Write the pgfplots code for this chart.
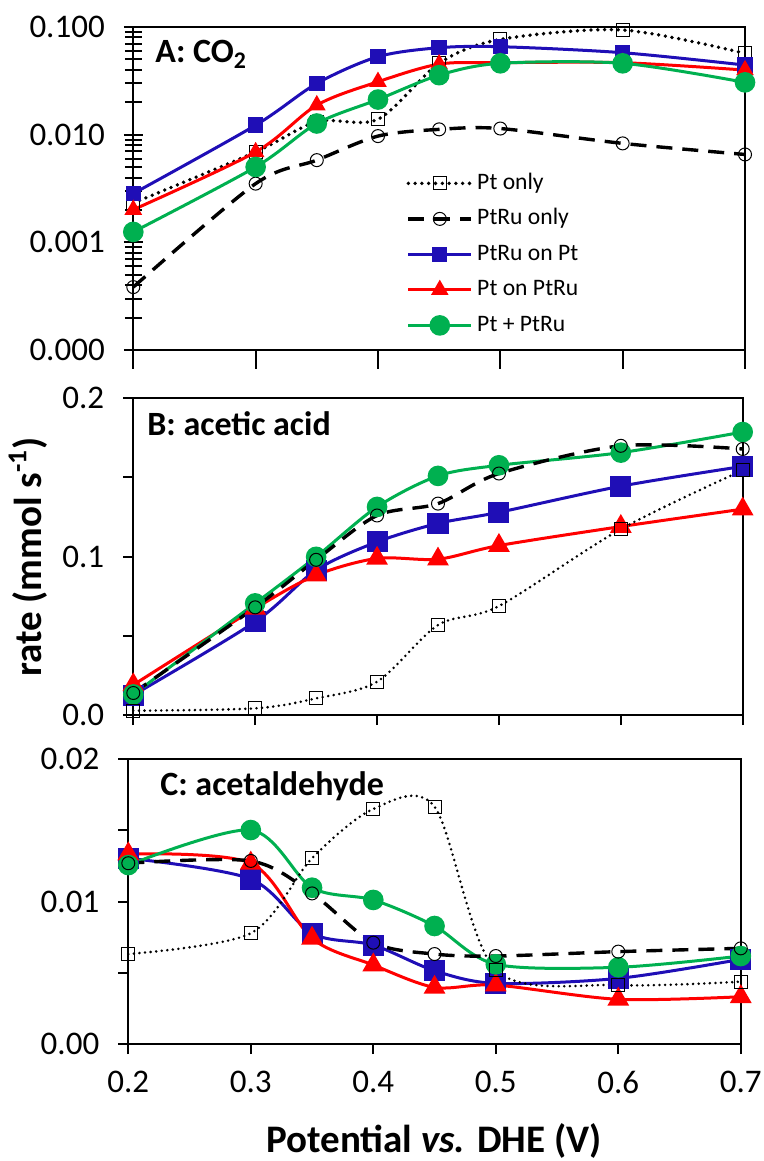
\documentclass[border=0pt]{standalone}
\usepackage{fontspec}
\setmainfont{Carlito}
\usepackage{pgfplots}
\pgfplotsset{compat=1.18}
\definecolor{cblue}{RGB}{31,14,182}
\definecolor{cred}{RGB}{255,0,0}
\definecolor{cgreen}{RGB}{0,176,80}
\pgfplotsset{
  panel/.style={
    scale only axis, clip=false,
    xmin=0.2, xmax=0.7,
    xtick={0.2,0.3,0.4,0.5,0.6,0.7},
    scaled y ticks=false, scaled x ticks=false,
    axis line style={line width=1pt},
    every tick/.style={black, line width=1pt},
    major tick length=5pt, minor tick length=5pt,
    tick align=outside, tick pos=left,
    /pgf/number format/assume math mode=true,
    ticklabel style={font=\fontsize{16.5}{18}\selectfont},
    yticklabel style={xshift=-6pt},
    xticklabel style={yshift=-5pt},
    legend image code/.code={\draw[mark repeat=2,mark phase=2] plot coordinates {(0pt,0pt) (15.75pt,0pt) (31.5pt,0pt)};},
  },
  ptonly/.style={black, line width=1.9pt, dash pattern=on 0pt off 3.4pt, line cap=round, smooth, mark=square, mark size=3.25pt, mark options={solid, line width=0.5pt, line cap=butt}},
  ptruonly/.style={black, line width=1.7pt, dash pattern=on 8pt off 5pt, smooth, mark=o, mark size=3.25pt, mark options={solid, line width=0.5pt}},
  blueS/.style={cblue, line width=1.5pt, smooth, mark=square*, mark size=3.1pt, mark options={solid, fill=cblue}},
  redS/.style={cred, line width=1.5pt, smooth, mark=triangle*, mark size=3.6pt, mark options={solid, fill=cred}},
  greenS/.style={cgreen, line width=1.5pt, smooth, mark=*, mark size=4.4pt, mark options={solid, fill=cgreen}},
}
\begin{document}
\begin{tikzpicture}
\useasboundingbox (0,0) rectangle (382pt,-580.5pt);
% ---------- Panel A ----------
\begin{axis}[panel, at={(66.65pt,-175pt)}, anchor=south west,
  width=305.85pt, height=161.5pt,
  ymode=log, ymin=1e-4, ymax=0.1,
  ytick={1e-4,1e-3,1e-2,1e-1}, yticklabels={0.000,0.001,0.010,0.100},
  minor ytick={2e-4,3e-4,4e-4,5e-4,6e-4,7e-4,8e-4,9e-4,2e-3,3e-3,4e-3,5e-3,6e-3,7e-3,8e-3,9e-3,2e-2,3e-2,4e-2,5e-2,6e-2,7e-2,8e-2,9e-2},
  ytick align=center, major tick length=9.5pt, minor tick length=8.5pt,
  xticklabels={},
  legend style={draw=none, fill=none, at={(0.4458,0.5635)}, anchor=north west, inner sep=0pt,
    font=\fontsize{11.8}{13}\selectfont, row sep=2.75pt,
    nodes={inner sep=2pt, text height=8.5pt, text depth=2.5pt}},
  legend cell align=left,
]
\addplot[ptonly] coordinates {(0.2,0.00232)(0.3,0.0069)(0.35,0.0132)(0.4,0.0139)(0.45,0.046)(0.5,0.0767)(0.6,0.0938)(0.7,0.0569)};
\addlegendentry{Pt only}
\addplot[ptruonly] coordinates {(0.2,0.000384)(0.3,0.00351)(0.35,0.0058)(0.4,0.0097)(0.45,0.0112)(0.5,0.0114)(0.6,0.0083)(0.7,0.00655)};
\addlegendentry{PtRu only}
\addplot[blueS] coordinates {(0.2,0.00284)(0.3,0.01225)(0.35,0.0299)(0.4,0.053)(0.45,0.0642)(0.5,0.0656)(0.6,0.0577)(0.7,0.0443)};
\addlegendentry{PtRu on Pt}
\addplot[redS] coordinates {(0.2,0.00201)(0.3,0.0069)(0.35,0.0188)(0.4,0.031)(0.45,0.0452)(0.5,0.0466)(0.6,0.0466)(0.7,0.0398)};
\addlegendentry{Pt on PtRu}
\addplot[greenS] coordinates {(0.2,0.00125)(0.3,0.00501)(0.35,0.0127)(0.4,0.0212)(0.45,0.0357)(0.5,0.046)(0.6,0.046)(0.7,0.0306)};
\addlegendentry{Pt + PtRu}
\end{axis}
% ---------- Panel B ----------
\begin{axis}[panel, at={(66.65pt,-357.5pt)}, anchor=south west,
  width=304.7pt, height=158.35pt,
  ymin=0, ymax=0.2, ytick={0,0.1,0.2}, yticklabels={0.0,0.1,0.2},
  minor ytick={0.05,0.15},
  xticklabels={},
  blueS/.append style={mark size=4.5pt},
  redS/.append style={mark size=4.8pt},
  ptonly/.append style={line width=1.4pt, dash pattern=on 0pt off 2.8pt},
]
\addplot[blueS] coordinates {(0.2,0.0126)(0.3,0.0589)(0.35,0.0915)(0.4,0.1093)(0.45,0.121)(0.5,0.128)(0.6,0.1445)(0.7,0.157)};
\addplot[redS] coordinates {(0.2,0.019)(0.3,0.0673)(0.35,0.0883)(0.4,0.0989)(0.45,0.0984)(0.5,0.107)(0.6,0.119)(0.7,0.130)};
\addplot[greenS] coordinates {(0.2,0.013)(0.3,0.0705)(0.35,0.0999)(0.4,0.1314)(0.45,0.151)(0.5,0.1577)(0.6,0.1657)(0.7,0.1787)};
\addplot[ptruonly] coordinates {(0.2,0.0139)(0.3,0.068)(0.35,0.098)(0.4,0.126)(0.45,0.1335)(0.5,0.1525)(0.6,0.170)(0.7,0.168)};
\addplot[ptonly] coordinates {(0.2,0.0027)(0.3,0.0042)(0.35,0.0105)(0.4,0.021)(0.45,0.0568)(0.5,0.0688)(0.6,0.1174)(0.7,0.1546)};
\end{axis}
% ---------- Panel C ----------
\begin{axis}[panel, at={(64.15pt,-522pt)}, anchor=south west,
  width=306.25pt, height=142.35pt,
  ymin=0, ymax=0.02, ytick={0,0.01,0.02}, yticklabels={0.00,0.01,0.02},
  minor ytick={0.005,0.015},
  xticklabels={0.2,0.3,0.4,0.5,0.6,0.7},
  blueS/.append style={mark size=4.5pt},
  redS/.append style={mark size=4.8pt},
  ptonly/.append style={line width=1.4pt, dash pattern=on 0pt off 2.8pt},
]
\addplot[blueS] coordinates {(0.2,0.01305)(0.3,0.01159)(0.35,0.00777)(0.4,0.00695)(0.45,0.00515)(0.5,0.00426)(0.6,0.00461)(0.7,0.00595)};
\addplot[redS] coordinates {(0.2,0.01335)(0.3,0.0127)(0.35,0.00742)(0.4,0.00555)(0.45,0.00398)(0.5,0.00414)(0.6,0.00314)(0.7,0.00332)};
\addplot[greenS] coordinates {(0.2,0.01257)(0.3,0.01503)(0.35,0.01098)(0.4,0.01012)(0.45,0.00829)(0.5,0.0056)(0.6,0.00539)(0.7,0.00618)};
\addplot[ptruonly] coordinates {(0.2,0.0127)(0.3,0.01286)(0.35,0.01058)(0.4,0.00712)(0.45,0.00632)(0.5,0.00618)(0.6,0.00649)(0.7,0.00672)};
\addplot[ptonly] coordinates {(0.2,0.00632)(0.3,0.00778)(0.35,0.01305)(0.4,0.01651)(0.45,0.01667)(0.5,0.0052)(0.6,0.00414)(0.7,0.00438)};
\end{axis}
% ---------- texts ----------
\node[anchor=base west, font=\fontsize{17}{20}\selectfont\bfseries, inner sep=0pt] at (77.5pt,-31.5pt) {A: CO\textsubscript{2}};
\node[anchor=base west, font=\fontsize{17}{20}\selectfont\bfseries, inner sep=0pt] at (73.5pt,-217.5pt) {B: acetic acid};
\node[anchor=base west, font=\fontsize{17}{20}\selectfont\bfseries, inner sep=0pt] at (80pt,-397.5pt) {C: acetaldehyde};
\node[anchor=base, font=\fontsize{19.5}{22}\selectfont\bfseries, inner sep=0pt] at (217pt,-576pt) {Potential \textit{vs.} DHE (V)};
\node[rotate=90, font=\fontsize{19.5}{22}\selectfont\bfseries, inner sep=0pt] at (14pt,-278.5pt) {rate (mmol s\textsuperscript{-1})};
\end{tikzpicture}
\end{document}
